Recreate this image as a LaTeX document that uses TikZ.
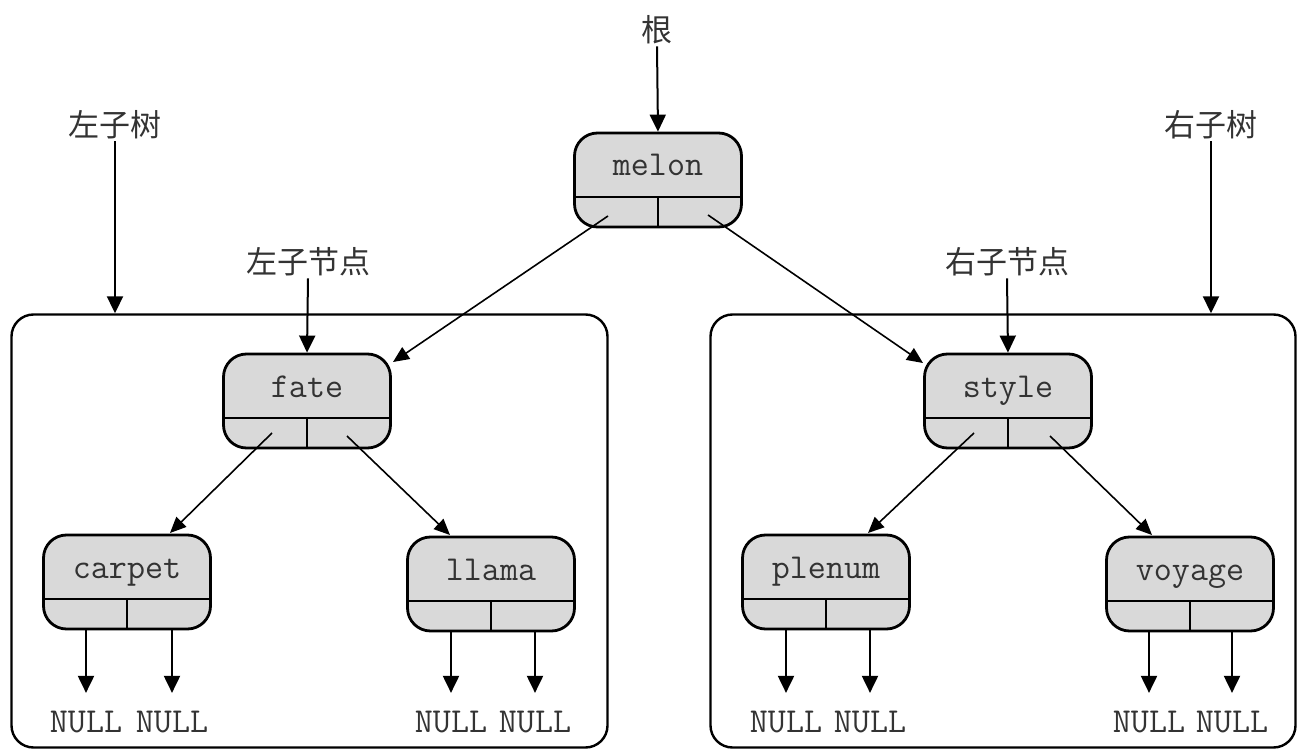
\documentclass[tikz,border=0pt]{standalone}
\usepackage{fontspec}
\newfontfamily\cjk{Noto Sans CJK SC}
\usetikzlibrary{arrows.meta}
\definecolor{boxgray}{HTML}{D9D9D9}
\definecolor{textgray}{HTML}{333333}
\begin{document}
\begin{tikzpicture}[x=1pt,y=-1pt,
  tnode/.style={draw, line width=2.8pt, rounded corners=23pt, fill=boxgray,
    minimum width=167pt, minimum height=94pt, inner sep=0pt,
    font=\ttfamily\fontsize{35}{35}\selectfont, text=textgray,
    text height=20pt, text depth=28pt,
    path picture={
      \draw[line width=1.6pt] ([yshift=30pt]path picture bounding box.south west) -- ([yshift=30pt]path picture bounding box.south east);
      \draw[line width=1.6pt] (path picture bounding box.south) -- ([yshift=30pt]path picture bounding box.south);
    }},
  cnlabel/.style={font=\cjk\fontsize{31}{31}\selectfont, text=textgray, inner sep=2pt},
  nulltext/.style={font=\ttfamily\fontsize{35}{35}\selectfont, text=textgray, inner sep=3pt},
  varrow/.style={line width=2pt, -{Triangle[length=17pt,width=16pt]}},
  darrow/.style={line width=1.6pt, -{Triangle[length=16pt,width=14pt]}},
  treebox/.style={draw, line width=2.4pt, rounded corners=22pt, inner sep=0pt}
]
\useasboundingbox (0,0) rectangle (1299,751);

% subtree boxes
\node[treebox, minimum width=596pt, minimum height=433pt] (lbox) at (309.5,531) {};
\node[treebox, minimum width=585pt, minimum height=433pt] (rbox) at (1003,531) {};

% tree nodes
\node[tnode] (melon)  at (658,180) {melon};
\node[tnode] (fate)   at (307,401) {fate};
\node[tnode] (style)  at (1008,401) {style};
\node[tnode] (carpet) at (127,582) {carpet};
\node[tnode] (llama)  at (491,584) {llama};
\node[tnode] (plenum) at (826,582) {plenum};
\node[tnode] (voyage) at (1190,584) {voyage};

% labels
\node[cnlabel] (root)  at (657,30)  {根};
\node[cnlabel] (ltree) at (115,125) {左子树};
\node[cnlabel] (rtree) at (1211,125) {右子树};
\node[cnlabel] (lchild) at (308,262) {左子节点};
\node[cnlabel] (rchild) at (1007,262) {右子节点};

% label arrows
\draw[varrow] (root.south) -- (melon.north);
\draw[varrow] (ltree.south) -- (ltree.south |- lbox.north);
\draw[varrow] (rtree.south) -- (rtree.south |- rbox.north);
\draw[varrow] (lchild.south) -- (fate.north);
\draw[varrow] (rchild.south) -- (style.north);

% tree edges
\draw[darrow] ([shift={(-50,36)}]melon.center) -- ([shift={(86,-39)}]fate.center);
\draw[darrow] ([shift={(50,35)}]melon.center) -- ([shift={(-85,-38)}]style.center);
\draw[darrow] ([shift={(-35,32)}]fate.center) -- ([shift={(43,-49)}]carpet.center);
\draw[darrow] ([shift={(40,35)}]fate.center) -- ([shift={(-41,-49)}]llama.center);
\draw[darrow] ([shift={(-34,32)}]style.center) -- ([shift={(42,-49)}]plenum.center);
\draw[darrow] ([shift={(42,35)}]style.center) -- ([shift={(-38,-49)}]voyage.center);

% NULL leaves
\node[nulltext] (n1) at (86,722) {NULL};
\node[nulltext] (n2) at (172,722) {NULL};
\node[nulltext] (n3) at (451,722) {NULL};
\node[nulltext] (n4) at (535,722) {NULL};
\node[nulltext] (n5) at (786,722) {NULL};
\node[nulltext] (n6) at (870,722) {NULL};
\node[nulltext] (n7) at (1149,722) {NULL};
\node[nulltext] (n8) at (1232,722) {NULL};

\foreach \n/\p in {n1/carpet,n2/carpet,n3/llama,n4/llama,n5/plenum,n6/plenum,n7/voyage,n8/voyage}{
  \draw[varrow, shorten >=15pt] (\n.north |- \p.south) -- (\n.north);
}
\end{tikzpicture}
\end{document}
